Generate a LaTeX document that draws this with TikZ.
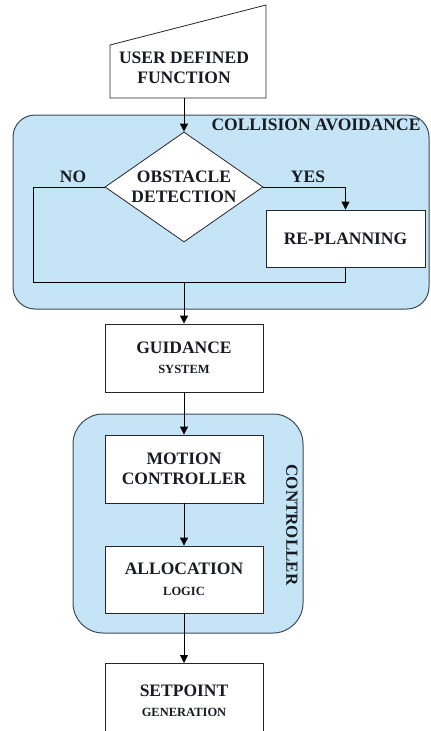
\documentclass[tikz,border=0pt]{standalone}
\usepackage{fontspec}
\setmainfont{Liberation Serif}
\usetikzlibrary{shapes.geometric,arrows.meta}
\definecolor{panel}{RGB}{197,229,247}
\definecolor{panelline}{RGB}{62,74,86}
\definecolor{ink}{RGB}{24,28,34}
\newcommand\subline[1]{{\fontsize{12.5}{14}\selectfont #1}}
\begin{document}
\begin{tikzpicture}[x=1pt,y=-1pt,
  every node/.style={font=\bfseries\fontsize{17.5}{20.5}\selectfont, text=ink, align=center, inner sep=0pt},
  block/.style={draw=black!85, fill=white, line width=0.8pt, minimum width=158pt},
  group/.style={draw=panelline, fill=panel, line width=1pt},
  flow/.style={draw=black, line width=0.8pt},
  arr/.style={flow, -{Triangle[length=8pt,width=8pt]}}]
\useasboundingbox (0,0) rectangle (431,731);
\clip (0,0) rectangle (431,731);

% grouping panels
\node[group, rounded corners=22pt, minimum width=416pt, minimum height=194pt] (ca) at (221,212) {};
\node[font=\bfseries\fontsize{17.5}{20}\selectfont] (catitle) at (316,125) {COLLISION AVOIDANCE};
\node[group, rounded corners=30pt, minimum width=230pt, minimum height=219pt] (ctl) at (188,523.5) {};
\node[rotate=-90, font=\bfseries\fontsize{17}{20}\selectfont] (ctltitle) at (292,525) {CONTROLLER};

% user defined function (manual input)
\draw[draw=black!85, fill=white, line width=0.8pt] (110,45) -- (266,5) -- (266,98) -- (110,98) -- cycle;
\node (udf) at (184,68) {USER DEFINED\\FUNCTION};
\coordinate (udfb) at (184,98);

% decision and re-planning
\node[diamond, draw=black!85, fill=white, line width=0.8pt, aspect=1.44,
      minimum width=158pt, minimum height=110pt] (dia) at (184,187) {OBSTACLE\\DETECTION};
\node[block, minimum height=57pt, minimum width=159pt] (rp) at (345.5,238.5) {RE-PLANNING};
\node (no) at (73,177) {NO};
\node (yes) at (308,177) {YES};

% main chain
\node[block, minimum height=68pt] (gd) at (184,358) {GUIDANCE\\\subline{SYSTEM}};
\node[block, minimum height=68pt] (mc) at (184,469) {MOTION\\CONTROLLER};
\node[block, minimum height=67pt] (al) at (184,579.5) {ALLOCATION\\\subline{LOGIC}};
\node[block, minimum height=100pt, anchor=north] (sp) at (184,663) {};
\node (spt) at (184,701) {SETPOINT\\\subline{GENERATION}};

% connectors
\coordinate (noL) at (33,187);
\coordinate (noB) at (33,282);
\coordinate (yesR) at (345.5,187);
\coordinate (merge) at (184,282);
\coordinate (mergeR) at (345.5,282);

\draw[arr] (udfb) -- (dia.north);
\draw[flow] (dia.west) -- (noL) -- (noB) -- (mergeR) -- (rp.south);
\draw[arr] (dia.east) -- (yesR) -- (rp.north);
\draw[arr] (merge) -- (gd.north);
\draw[arr] (gd.south) -- (mc.north);
\draw[arr] (mc.south) -- (al.north);
\draw[arr] (al.south) -- (sp.north);
\end{tikzpicture}
\end{document}
